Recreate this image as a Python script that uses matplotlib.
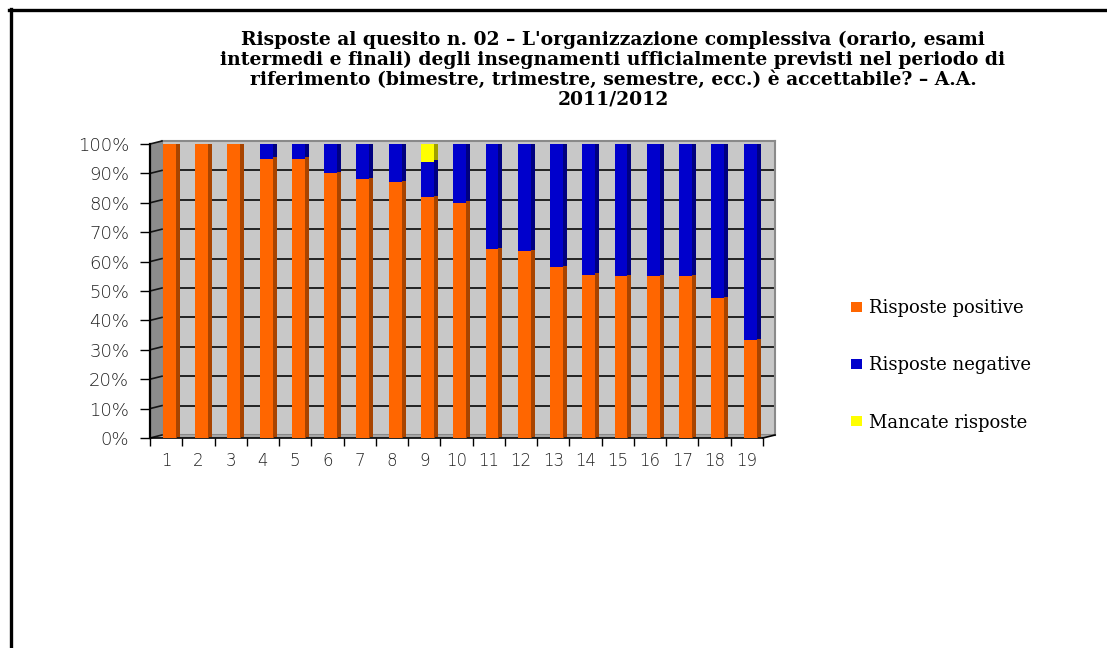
import matplotlib
matplotlib.use('Agg')
import matplotlib.pyplot as plt
from matplotlib.lines import Line2D
from matplotlib.patches import Polygon, Patch
from matplotlib.ticker import PercentFormatter, FixedLocator
from matplotlib.transforms import ScaledTranslation

# quota di risposte per insegnamento (frazioni)
corsi = [str(i) for i in range(1, 20)]
positive = [1.00, 1.00, 1.00, 0.95, 0.95, 0.90, 0.88, 0.87, 0.82, 0.80,
            0.643, 0.636, 0.58, 0.555, 0.55, 0.55, 0.55, 0.476, 0.333]
mancate = [0, 0, 0, 0, 0, 0, 0, 0, 0.06, 0, 0, 0, 0, 0, 0, 0, 0, 0, 0]
negative = [round(1 - p - m, 3) for p, m in zip(positive, mancate)]

serie = ['Risposte positive', 'Risposte negative', 'Mancate risposte']
colori = ['#ff6600', '#0000cc', '#ffff00']
colori_lato = ['#a84400', '#000080', '#a0a000']

W, H = 1107, 648
fig = plt.figure(figsize=(W / 100, H / 100), dpi=100)

def fx(px):
    return px / W

def fy(py):
    return 1 - py / H

# parete di fondo (spostata per l'effetto 3D)
back = fig.add_axes([fx(162), fy(435), fx(613), 294 / H], zorder=0)
back.set_facecolor('#c8c8c8')
back.set_xlim(0.5, 19.5)
back.set_ylim(0, 1)
back.set_xticks([])
back.set_yticks([])
for v in [i / 10 for i in range(1, 10)]:
    back.axhline(v, color='#151515', lw=1.3)
for s in back.spines.values():
    s.set_color('#8a8a8a')
    s.set_linewidth(1.5)

# parete sinistra e pavimento
fig.add_artist(Polygon([(fx(150), fy(438)), (fx(150), fy(144)), (fx(162), fy(141)), (fx(162), fy(435))],
                       closed=True, transform=fig.transFigure, facecolor='#8c8c8c', edgecolor='none', zorder=1))
fig.add_artist(Polygon([(fx(150), fy(438)), (fx(763), fy(438)), (fx(775), fy(435)), (fx(162), fy(435))],
                       closed=True, transform=fig.transFigure, facecolor='#a6a6a6', edgecolor='none', zorder=1))

ax = fig.add_axes([fx(150), fy(438), fx(613), 294 / H], zorder=2)
ax.patch.set_alpha(0)
ax.set_xlim(0.5, 19.5)
ax.set_ylim(0, 1)

# linee della griglia sulla parete sinistra
for v in [i / 10 for i in range(0, 11)]:
    ax.plot([0, 12 / 613], [v, v + 3 / 294], transform=ax.get_yaxis_transform(),
            color='#151515', lw=1.2, clip_on=False)

x = list(range(1, 20))
xb = [i + 0.1 for i in x]
larg = 0.40
strati = [positive, negative, mancate]

# fianchi delle barre: copie traslate in colore scuro
for k in range(1, 5):
    off = ax.transData + ScaledTranslation(k / 100, k * 0.35 / 100, fig.dpi_scale_trans)
    base = [0] * 19
    for vals, col in zip(strati, colori_lato):
        ax.bar(xb, vals, larg, bottom=base, color=col, edgecolor='none',
               transform=off, zorder=3)
        base = [b + v for b, v in zip(base, vals)]

base = [0] * 19
for vals, col in zip(strati, colori):
    ax.bar(xb, vals, larg, bottom=base, color=col, edgecolor='none', zorder=4)
    base = [b + v for b, v in zip(base, vals)]

ax.yaxis.set_major_locator(FixedLocator([i / 10 for i in range(11)]))
ax.yaxis.set_major_formatter(PercentFormatter(1.0, decimals=0))
ax.tick_params(axis='y', length=7, width=1, pad=8, labelsize=13, labelcolor='#222222')
ax.set_xticks([i + 0.5 for i in range(0, 20)])
ax.set_xticklabels([])
ax.set_xticks(x, minor=True)
ax.set_xticklabels(corsi, minor=True)
ax.tick_params(axis='x', which='major', length=6, width=1)
ax.tick_params(axis='x', which='minor', length=0, pad=10, labelsize=12, labelcolor='#222222')
for lab in ax.get_yticklabels() + ax.get_xticklabels(minor=True):
    lab.set_fontfamily('DejaVu Sans')
    lab.set_fontweight('light')
ax.spines['top'].set_visible(False)
ax.spines['right'].set_visible(False)
ax.spines['left'].set_linewidth(1.6)
ax.spines['bottom'].set_linewidth(1.2)
ax.plot([1, 1 + 12 / 613], [0, 3 / 294], transform=ax.transAxes, color='black', lw=1.2, clip_on=False)

# titolo
righe = ["Risposte al quesito n. 02 \u2013 L'organizzazione complessiva (orario, esami",
         "intermedi e finali) degli insegnamenti ufficialmente previsti nel periodo di",
         "riferimento (bimestre, trimestre, semestre, ecc.) \u00e8 accettabile? \u2013 A.A.",
         "2011/2012"]
for r, py in zip(righe, [40, 60, 80, 99]):
    fig.text(fx(613), fy(py), r, ha='center', va='center', family='DejaVu Serif',
             fontweight='bold', fontsize=13.5)

# legenda
maniglie = [Patch(facecolor=c, edgecolor='none') for c in colori]
fig.legend(maniglie, serie, loc='upper left', bbox_to_anchor=(fx(835), fy(283)),
           frameon=False, prop={'family': 'DejaVu Serif', 'size': 13},
           handlelength=0.6, handleheight=0.45, handletextpad=0.4, labelspacing=2.17)

# cornice
fig.add_artist(Line2D([fx(9), 1], [fy(10), fy(10)], color='black', lw=2.4, transform=fig.transFigure))
fig.add_artist(Line2D([fx(10.5), fx(10.5)], [fy(9), 0], color='black', lw=2.4, transform=fig.transFigure))

fig.savefig('out.png', dpi=100)
